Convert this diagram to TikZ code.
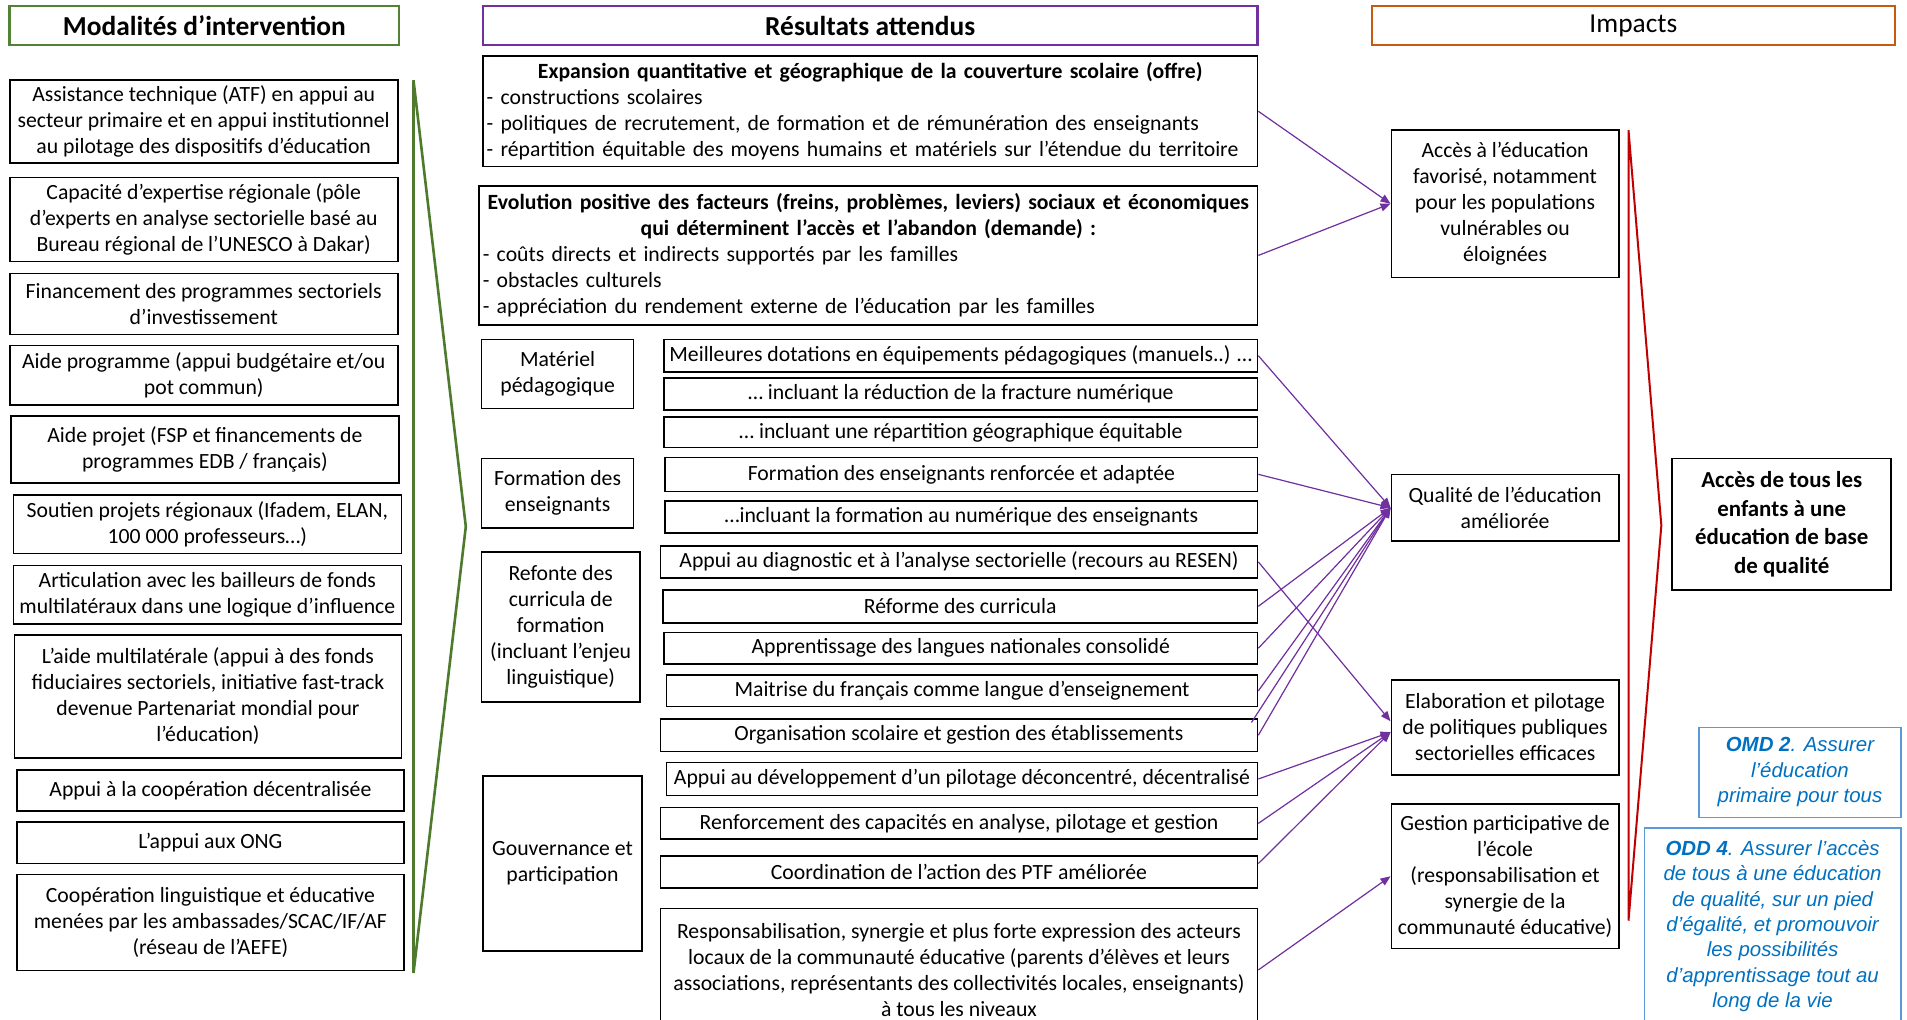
\documentclass[tikz,border=0pt]{standalone}
\usepackage{fontspec}
\setmainfont{Carlito}
\newfontfamily\arialf{Liberation Sans}
\usetikzlibrary{arrows.meta}
\definecolor{grn}{RGB}{84,130,53}
\definecolor{grnline}{RGB}{78,122,46}
\definecolor{purp}{RGB}{112,48,160}
\definecolor{orng}{RGB}{197,90,17}
\definecolor{redl}{RGB}{192,0,0}
\definecolor{bluebd}{RGB}{91,155,213}
\definecolor{bluetx}{RGB}{0,112,192}
\newdimen\pxu \pxu=1.2162bp
\newcommand\bx[6]{\node[#1, minimum width={(#4-#2)*\pxu}, minimum height={(#5-#3)*\pxu}] (#6) at ({(#2+#4)/2},{(#3+#5)/2})}
\tikzset{
  box/.style={draw=black, line width=1.6bp, inner sep=1bp, align=center, font=\fontsize{21.8}{26}\selectfont},
  hdr/.style={line width=2.6bp, inner sep=0pt, font=\fontsize{27.5}{32}\selectfont},
  conn/.style={draw=purp, line width=1.2bp, -{Triangle[length=10bp,width=8bp]}, fill=purp},
  oddbox/.style={draw=bluebd, line width=1.6bp, inner sep=1bp, align=center, text=bluetx, font=\arialf\itshape\fontsize{20.5}{25.5}\selectfont},
  listbox/.style={box, align=left, inner xsep=2bp},
}
\begin{document}
\begin{tikzpicture}[x=1.2162bp, y=-1.2162bp]
\useasboundingbox (0,0) rectangle (1568,838);
\clip (0,0) rectangle (1568,838);
% headers
\bx{hdr,draw=grn}{8}{5}{328}{37}{hmod}{\bfseries Modalités d’intervention};
\bx{hdr,draw=purp}{397}{5}{1034}{37}{hres}{\bfseries Résultats attendus};
\bx{hdr,draw=orng}{1128}{5}{1558}{37}{himp}{Impacts};
% left column
\bx{box}{8}{66}{327}{134}{m1}{Assistance technique (ATF) en appui au\\secteur primaire et en appui institutionnel\\au pilotage des dispositifs d’éducation};
\bx{box}{8}{146}{327}{215}{m2}{Capacité d’expertise régionale (pôle\\d’experts en analyse sectorielle basé au\\Bureau régional de l’UNESCO à Dakar)};
\bx{box}{8}{225}{327}{275}{m3}{Financement des programmes sectoriels\\d’investissement};
\bx{box}{8}{284}{327}{333}{m4}{Aide programme (appui budgétaire et/ou\\pot commun)};
\bx{box}{9}{342}{328}{397}{m5}{Aide projet (FSP et financements de\\programmes EDB / français)};
\bx{box}{11}{407}{330}{455}{m6}{Soutien projets régionaux (Ifadem, ELAN,\\100~000 professeurs…)};
\bx{box}{11}{465}{330}{513}{m7}{Articulation avec les bailleurs de fonds\\multilatéraux dans une logique d’influence};
\bx{box}{12}{522}{330}{623}{m8}{L’aide multilatérale (appui à des fonds\\fiduciaires sectoriels, initiative fast-track\\devenue Partenariat mondial pour\\l'éducation)};
\bx{box}{14}{633}{332}{667}{m9}{Appui à la coopération décentralisée};
\bx{box}{14}{676}{332}{710}{m10}{L’appui aux ONG};
\bx{box}{14}{719}{332}{798}{m11}{Coopération linguistique et éducative\\menées par les ambassades/SCAC/IF/AF\\(réseau de l’AEFE)};
% green chevron
\draw[grnline, line width=2.6bp, line join=miter] (340,66) -- (340,800) -- (383,433) -- cycle;
% middle column
\bx{listbox,text width=767bp}{397}{46}{1034}{137}{exp}{{\centering\bfseries Expansion quantitative et géographique de la couverture scolaire (offre)\par}- constructions scolaires\\- politiques de recrutement, de formation et de rémunération des enseignants\\- répartition équitable des moyens humains et matériels sur l’étendue du territoire};
\bx{listbox,text width=771bp}{394}{153}{1034}{267}{evo}{{\centering\bfseries Evolution positive des facteurs (freins, problèmes, leviers) sociaux et économiques\\qui déterminent l’accès et l’abandon (demande) :\par}- coûts directs et indirects supportés par les familles\\- obstacles culturels\\- appréciation du rendement externe de l’éducation par les familles};
\bx{box}{396}{279}{521}{336}{cmat}{Matériel\\pédagogique};
\bx{box}{396}{377}{521}{434}{cfor}{Formation des\\enseignants};
\bx{box}{396}{454}{526}{577}{cref}{Refonte des\\curricula de\\formation\\(incluant l’enjeu\\linguistique)};
\bx{box}{397}{638}{528}{782}{cgou}{Gouvernance et\\participation};
\bx{box}{546}{279}{1034}{306}{meil}{Meilleures dotations en équipements pédagogiques (manuels..) …};
\bx{box}{546}{311}{1034}{337}{redu}{… incluant la réduction de la fracture numérique};
\bx{box}{546}{343}{1034}{368}{repa}{… incluant une répartition géographique équitable};
\bx{box}{547}{376}{1034}{404}{form}{Formation des enseignants renforcée et adaptée};
\bx{box}{547}{412}{1034}{438}{fnum}{…incluant la formation au numérique des enseignants};
\bx{box}{543}{449}{1034}{475}{diag}{Appui au diagnostic et à l’analyse sectorielle (recours au RESEN)};
\bx{box}{545}{485}{1034}{512}{refo}{Réforme des curricula};
\bx{box}{546}{520}{1034}{546}{lang}{Apprentissage des langues nationales consolidé};
\bx{box}{548}{555}{1034}{581}{fran}{Maitrise du français comme langue d’enseignement};
\bx{box}{543}{591}{1034}{618}{orga}{Organisation scolaire et gestion des établissements};
\bx{box}{548}{627}{1034}{654}{pilo}{Appui au développement d’un pilotage déconcentré, décentralisé};
\bx{box}{543}{664}{1034}{690}{renf}{Renforcement des capacités en analyse, pilotage et gestion};
\bx{box}{543}{704}{1034}{730}{coor}{Coordination de l’action des PTF améliorée};
\bx{box}{543}{747}{1034}{848}{resp}{Responsabilisation, synergie et plus forte expression des acteurs\\locaux de la communauté éducative (parents d’élèves et leurs\\associations, représentants des collectivités locales, enseignants)\\à tous les niveaux};
% right column
\bx{box}{1144}{107}{1331}{228}{acc}{Accès à l’éducation\\favorisé, notamment\\pour les populations\\vulnérables ou\\éloignées};
\bx{box}{1144}{390}{1331}{445}{qual}{Qualité de l’éducation\\améliorée};
\bx{box}{1144}{559}{1331}{637}{elab}{Elaboration et pilotage\\de politiques publiques\\sectorielles efficaces};
\bx{box}{1144}{661}{1331}{780}{gest}{Gestion participative de\\l’école\\(responsabilisation et\\synergie de la\\communauté éducative)};
\draw[redl, line width=2bp, line join=miter] (1339,107) -- (1339,757) -- (1366,432) -- cycle;
\bx{box,font=\bfseries\fontsize{23}{28.5}\selectfont}{1375}{377}{1555}{485}{tous}{Accès de tous les\\enfants à une\\éducation de base\\de qualité};
\bx{oddbox}{1397}{598}{1563}{672}{omd}{\textbf{OMD 2}. Assurer\\l’éducation\\primaire pour tous};
\bx{oddbox}{1352}{681}{1563}{842}{oddq}{\textbf{ODD 4}. Assurer l’accès\\de tous à une éducation\\de qualité, sur un pied\\d’égalité, et promouvoir\\les possibilités\\d’apprentissage tout au\\long de la vie};
% connectors
\draw[conn] (exp.east) -- (acc.west);
\draw[conn] (evo.east) -- (acc.west);
\draw[conn] (meil.east) -- (qual.west);
\draw[conn] (form.east) -- (qual.west);
\draw[conn] (refo.east) -- (qual.west);
\draw[conn] (lang.east) -- (qual.west);
\draw[conn] (fran.east) -- (qual.west);
\coordinate (xtra) at (1029,594);
\draw[conn] (xtra) -- (qual.west);
\draw[conn] (orga.east) -- (qual.west);
\draw[conn] (diag.east) -- ([yshift=5\pxu]elab.west);
\draw[conn] (pilo.east) -- ([yshift=-4\pxu]elab.west);
\draw[conn] (renf.east) -- ([yshift=-4\pxu]elab.west);
\draw[conn] ([yshift=7\pxu]coor.east) -- ([yshift=-4\pxu]elab.west);
\draw[conn] (resp.east) -- (gest.west);
\end{tikzpicture}
\end{document}
